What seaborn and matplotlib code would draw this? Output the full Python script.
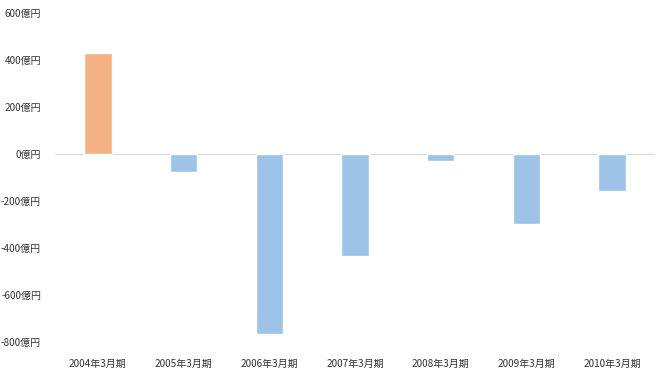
import matplotlib
matplotlib.use("Agg")
import matplotlib.pyplot as plt
import seaborn as sns
import pandas as pd
from matplotlib.ticker import FuncFormatter

# データ（億円）
periods = ["2004年3月期", "2005年3月期", "2006年3月期", "2007年3月期",
           "2008年3月期", "2009年3月期", "2010年3月期"]
values = [430, -75, -765, -433, -28, -298, -157]
bar_colors = ["#F4B183", "#9DC3E6", "#9DC3E6", "#9DC3E6",
              "#9DC3E6", "#9DC3E6", "#9DC3E6"]
yticks = [-800, -600, -400, -200, 0, 200, 400, 600]

sns.set_style("white")
plt.rcParams["font.family"] = ["Noto Sans CJK JP", "DejaVu Sans"]

df = pd.DataFrame({"period": periods, "value": values})

fig = plt.figure(figsize=(6.6, 3.76), dpi=100)
ax = fig.add_axes([55 / 660, 34 / 376, 600 / 660, 329 / 376])

sns.barplot(data=df, x="period", y="value", hue="period",
            palette=bar_colors, width=0.32, legend=False, ax=ax,
            saturation=1)

ax.axhline(0, color="#d9d9d9", lw=0.8, zorder=0)
ax.set_ylim(-800, 600)
ax.set_xlim(-0.5, len(periods) - 0.5)
ax.set_yticks(yticks)
ax.yaxis.set_major_formatter(FuncFormatter(lambda v, p: f"{int(v)}億円"))
ax.set_xlabel("")
ax.set_ylabel("")
ax.tick_params(axis="both", length=0, labelsize=7.2, colors="#333333")
ax.tick_params(axis="y", pad=10)
ax.tick_params(axis="x", pad=12)
for s in ax.spines.values():
    s.set_visible(False)

fig.savefig("out.png", dpi=100)
